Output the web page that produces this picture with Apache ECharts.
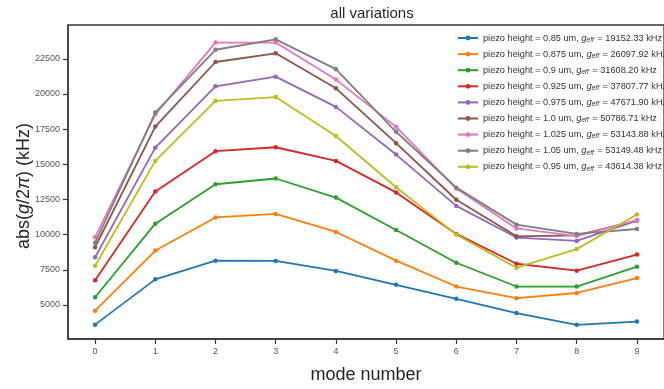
<!DOCTYPE html>
<html>
<head>
<meta charset="utf-8">
<script src="https://cdn.jsdelivr.net/npm/echarts@6/dist/echarts.min.js"></script>
<style>html,body{margin:0;padding:0;background:#fff}#c{width:664px;height:389px}</style>
</head>
<body>
<div id="c"></div>
<script>
const modes = [0, 1, 2, 3, 4, 5, 6, 7, 8, 9];
const yTicks = [5000, 7500, 10000, 12500, 15000, 17500, 20000, 22500];
const heights = ['0.85', '0.875', '0.9', '0.925', '0.975', '1.0', '1.025', '1.05', '0.95'];
const gEff = ['19152.33', '26097.92', '31608.20', '37807.77', '47671.90', '50786.71', '53143.88', '53149.48', '43614.38'];
const h085  = [3600, 6820, 8150, 8130, 7420, 6430, 5440, 4420, 3590, 3820];
const h0875 = [4590, 8870, 11220, 11470, 10190, 8150, 6310, 5480, 5850, 6910];
const h09   = [5550, 10780, 13580, 13990, 12630, 10330, 8000, 6310, 6310, 7720];
const h0925 = [6750, 13070, 15930, 16210, 15240, 13000, 10050, 7930, 7440, 8580];
const h0975 = [8390, 16180, 20540, 21230, 19080, 15690, 12040, 9790, 9550, 11000];
const h10   = [9100, 17680, 22270, 22890, 20400, 16500, 12480, 9880, 9950, 11000];
const h1025 = [9820, 18550, 23650, 23650, 21020, 17660, 13270, 10440, 9900, 11030];
const h105  = [9420, 18680, 23140, 23880, 21760, 17310, 13340, 10710, 10050, 10400];
const h095  = [7790, 15240, 19500, 19780, 17010, 13370, 10000, 7650, 8970, 11430];

const allSeries = [h085, h0875, h09, h0925, h0975, h10, h1025, h105, h095];
const colors = ['#1f77b4', '#ff7f0e', '#2ca02c', '#d62728', '#9467bd', '#8c564b', '#e377c2', '#7f7f7f', '#bcbd22'];
const FONT = '"Liberation Sans", Arial, sans-serif';

const names = heights.map((h, i) => 'piezo height = ' + h + ' um|' + gEff[i]);
const series = allSeries.map((vals, i) => ({
  name: names[i],
  type: 'line',
  data: modes.map((m, j) => [m, vals[j]]),
  symbol: 'circle',
  symbolSize: 4.5,
  lineStyle: { width: 1.8, color: colors[i] },
  itemStyle: { color: colors[i] },
  emphasis: { disabled: true },
  z: 2 + i
}));

const chart = echarts.init(document.getElementById('c'), null, { renderer: 'canvas' });
chart.setOption({
  animation: false,
  textStyle: { fontFamily: FONT },
  title: {
    text: 'all variations',
    left: 367, top: 1, textAlign: 'center',
    textStyle: { fontSize: 15, fontWeight: 'normal', color: '#262626', fontFamily: FONT }
  },
  grid: { left: 68, top: 25, right: -9, bottom: 42, show: true, borderColor: '#3a3a3a', borderWidth: 1.3, backgroundColor: 'transparent' },
  legend: {
    orient: 'vertical',
    left: 452, top: 28,
    itemWidth: 20, itemHeight: 6, itemGap: 5.6,
    data: names,
    formatter: function (n) {
      const p = n.split('|');
      return '{t|' + p[0] + ', }{g|g}{s|eff}{t| = ' + p[1] + ' kHz}';
    },
    textStyle: {
      fontFamily: FONT, color: '#333', fontSize: 9,
      rich: {
        t: { fontSize: 9.2, color: '#333', fontFamily: FONT },
        g: { fontSize: 9.5, color: '#333', fontStyle: 'italic', fontFamily: FONT },
        s: { fontSize: 6.5, color: '#333', fontStyle: 'italic', fontFamily: FONT, verticalAlign: 'bottom', padding: [4, 1, 0, 0] }
      }
    }
  },
  xAxis: {
    type: 'value', min: -0.45, max: 9.45,
    name: 'mode number', nameLocation: 'middle', nameGap: 27,
    nameTextStyle: { fontSize: 18, color: '#262626', fontFamily: FONT },
    axisLine: { show: true, onZero: false, lineStyle: { color: '#3a3a3a', width: 1.5 } },
    axisTick: { show: true, length: 5, lineStyle: { color: '#3a3a3a', width: 1.2 }, customValues: modes },
    axisLabel: { customValues: modes, fontSize: 9, color: '#555', margin: 8, fontFamily: FONT, formatter: v => String(v) },
    splitLine: { show: false }
  },
  yAxis: {
    type: 'value', min: 2580, max: 24900,
    axisLine: { show: true, onZero: false, lineStyle: { color: '#3a3a3a', width: 1.5 } },
    axisTick: { show: true, length: 5, lineStyle: { color: '#3a3a3a', width: 1.2 }, customValues: yTicks },
    axisLabel: { customValues: yTicks, fontSize: 9, color: '#555', margin: 8, fontFamily: FONT, formatter: v => String(v) },
    splitLine: { show: false }
  },
  graphic: [{
    type: 'text',
    x: 24, y: 186,
    rotation: Math.PI / 2,
    style: {
      text: '{n|abs(}{i|g}{n|/2}{i|π}{n|) (kHz)}',
      textAlign: 'center', textVerticalAlign: 'middle',
      rich: {
        n: { fontSize: 18, fill: '#262626', fontFamily: FONT },
        i: { fontSize: 18, fill: '#262626', fontStyle: 'italic', fontFamily: FONT }
      }
    }
  }],
  series: series
});
</script>
</body>
</html>
